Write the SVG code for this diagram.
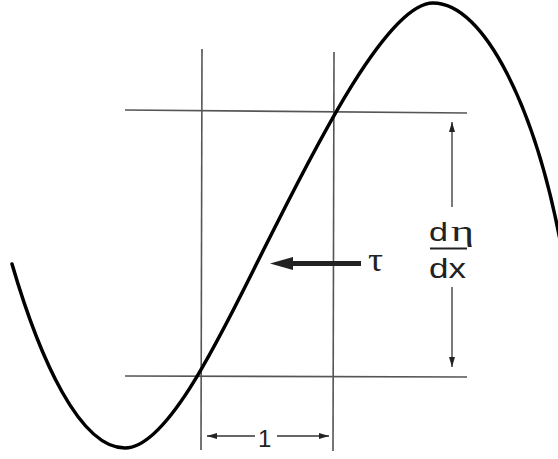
<svg xmlns="http://www.w3.org/2000/svg" width="558" height="459" viewBox="0 0 558 459">
<style>
.grid{stroke:#555;stroke-width:1.6;fill:none}
.dim{stroke:#333;stroke-width:1.3;fill:none}
.curve{stroke:#000;stroke-width:3.5;fill:none;stroke-linecap:round}
.sans{font-family:"Liberation Sans",Arial,sans-serif;fill:#222}
.serif{font-family:"Liberation Serif","DejaVu Serif",serif;fill:#222}
</style>
<defs>
<marker id="ah" viewBox="0 0 10 6" refX="10" refY="3" markerWidth="10" markerHeight="6" markerUnits="userSpaceOnUse" orient="auto">
<path d="M0,0 L10,3 L0,6 Z" fill="#222"/>
</marker>
</defs>
<rect width="558" height="459" fill="#fff"/>
<g id="grid">
<line class="grid" x1="202" y1="49" x2="201" y2="450"/>
<line class="grid" x1="334" y1="52" x2="333" y2="451"/>
<line class="grid" x1="125" y1="110" x2="467" y2="113"/>
<line class="grid" x1="125" y1="376" x2="467" y2="377"/>
</g>
<g id="curve">
<path class="curve" d="M12,264 C40,360 80,448 125,448 C170,448 227,322 267,243 C307,164 385,3 433,3 C485,3 535,110 560,240"/>
</g>
<g id="connectors">
<line class="dim" x1="452" y1="207" x2="452" y2="122" marker-end="url(#ah)"/>
<line class="dim" x1="452" y1="287" x2="452" y2="367" marker-end="url(#ah)"/>
<line class="dim" x1="255" y1="436" x2="207" y2="436" marker-end="url(#ah)"/>
<line class="dim" x1="277" y1="436" x2="329" y2="436" marker-end="url(#ah)"/>
<line x1="361" y1="263.5" x2="290" y2="263.5" stroke="#222" stroke-width="5"/>
<polygon points="270,263.5 293,257 293,270" fill="#222"/>
</g>
<g id="tau-label">
<text class="serif" x="368" y="271" font-size="33" textLength="15" lengthAdjust="spacingAndGlyphs">τ</text>
</g>
<g id="slope-label">
<text class="sans" x="429" y="241" font-size="26" textLength="19" lengthAdjust="spacingAndGlyphs">d</text>
<text class="serif" x="451" y="241" font-size="30" textLength="23" lengthAdjust="spacingAndGlyphs">η</text>
<line x1="430" y1="248.5" x2="467" y2="248.5" stroke="#222" stroke-width="2"/>
<text class="sans" x="429" y="278" font-size="27" textLength="37" lengthAdjust="spacingAndGlyphs">dx</text>
</g>
<g id="unit-label">
<text class="sans" x="258" y="447" font-size="24">1</text>
</g>
</svg>
